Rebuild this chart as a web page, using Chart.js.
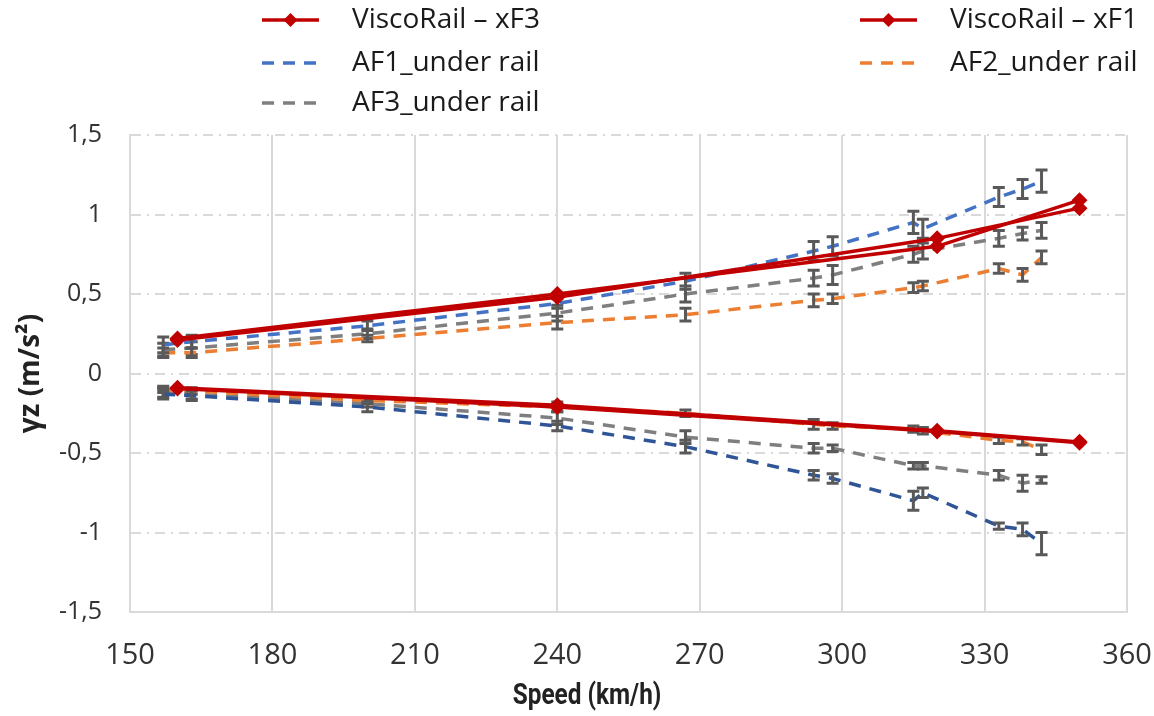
<!DOCTYPE html>
<html>
<head>
<meta charset="utf-8">
<script src="https://cdn.jsdelivr.net/npm/chart.js@4.4.0/dist/chart.umd.min.js"></script>
<style>
  html, body { margin: 0; padding: 0; background: #fff; }
</style>
</head>
<body>
<canvas id="chart" width="1154" height="716"></canvas>
<script>
// speeds (km/h)
const railSpeeds = [160, 240, 320, 350];
const afSpeeds = [157, 163, 200, 240, 267, 294, 298, 315, 317, 333, 338, 342];

// ViscoRail peaks (positive / negative)
const xF3Pos = [0.22, 0.50, 0.80, 1.09];
const xF3Neg = [-0.09, -0.20, -0.36, -0.43];
const xF1Pos = [0.21, 0.48, 0.85, 1.04];
const xF1Neg = [-0.095, -0.21, -0.365, -0.435];

// accelerometers under rail
const af1Pos = [0.18, 0.20, 0.30, 0.44, 0.58, 0.77, 0.80, 0.95, 0.91, 1.11, 1.16, 1.21];
const af1Neg = [-0.13, -0.14, -0.21, -0.33, -0.46, -0.64, -0.66, -0.80, -0.75, -0.96, -0.98, -1.07];
const af2Pos = [0.13, 0.13, 0.22, 0.32, 0.37, 0.46, 0.47, 0.54, 0.55, 0.66, 0.62, 0.73];
const af2Neg = [-0.10, -0.11, -0.17, -0.21, -0.25, -0.32, -0.33, -0.35, -0.36, -0.42, -0.43, -0.48];
const af3Pos = [0.15, 0.16, 0.25, 0.38, 0.50, 0.60, 0.62, 0.75, 0.77, 0.85, 0.88, 0.90];
const af3Neg = [-0.12, -0.13, -0.19, -0.28, -0.40, -0.47, -0.47, -0.58, -0.58, -0.64, -0.69, -0.67];

// half spread of the measurements
const af1PosErr = [0.05, 0.04, 0.03, 0.03, 0.05, 0.06, 0.06, 0.07, 0.06, 0.06, 0.06, 0.07];
const af1NegErr = [0.03, 0.03, 0.03, 0.03, 0.04, 0.03, 0.03, 0.06, 0.03, 0.02, 0.04, 0.07];
const af2PosErr = [0.03, 0.03, 0.02, 0.04, 0.04, 0.04, 0.03, 0.03, 0.03, 0.03, 0.04, 0.04];
const af2NegErr = [0.02, 0.02, 0.02, 0.03, 0.02, 0.03, 0.02, 0.02, 0.02, 0.02, 0.02, 0.03];
const af3PosErr = [0.04, 0.04, 0.03, 0.05, 0.05, 0.05, 0.06, 0.05, 0.05, 0.05, 0.04, 0.05];
const af3NegErr = [0.03, 0.03, 0.02, 0.04, 0.04, 0.03, 0.02, 0.02, 0.02, 0.03, 0.05, 0.02];

const xTicks = [150, 180, 210, 240, 270, 300, 330, 360];
const yTickLabels = ['-1,5', '-1', '-0,5', '0', '0,5', '1', '1,5'];
const xTitle = 'Speed (km/h)';

function pts(xs, ys) {
  return xs.map((x, i) => ({ x: x, y: ys[i] }));
}

const RED = '#C00000';
const BLUE = '#4472C4';
const NAVY = '#2F5597';
const ORANGE = '#ED7D31';
const GREY = '#7F7F7F';
const TEXT = '#333333';

function railSet(label, data, legend) {
  return {
    label: label,
    data: data,
    borderColor: RED,
    backgroundColor: RED,
    borderWidth: 3.5,
    pointStyle: 'rectRot',
    pointRadius: 8,
    pointBorderWidth: 0,
    showLine: true,
    legend: legend
  };
}

function afSet(label, data, color, err, legend) {
  return {
    label: label,
    data: data,
    borderColor: color,
    backgroundColor: color,
    borderWidth: 3.5,
    borderDash: [12, 9],
    pointRadius: 0,
    showLine: true,
    err: err,
    legend: legend
  };
}

const datasets = [
  railSet('ViscoRail – xF3', pts(railSpeeds, xF3Pos), true),
  railSet('ViscoRail – xF3', pts(railSpeeds, xF3Neg), false),
  railSet('ViscoRail – xF1', pts(railSpeeds, xF1Pos), true),
  railSet('ViscoRail – xF1', pts(railSpeeds, xF1Neg), false),
  afSet('AF1_under rail', pts(afSpeeds, af1Pos), BLUE, af1PosErr, true),
  afSet('AF1_under rail', pts(afSpeeds, af1Neg), NAVY, af1NegErr, false),
  afSet('AF2_under rail', pts(afSpeeds, af2Pos), ORANGE, af2PosErr, true),
  afSet('AF2_under rail', pts(afSpeeds, af2Neg), ORANGE, af2NegErr, false),
  afSet('AF3_under rail', pts(afSpeeds, af3Pos), GREY, af3PosErr, true),
  afSet('AF3_under rail', pts(afSpeeds, af3Neg), GREY, af3NegErr, false)
];

// gray I-bars drawn right after each AF line
const errorBars = {
  id: 'errorBars',
  afterDatasetDraw(chart, args) {
    const ds = chart.data.datasets[args.index];
    if (!ds.err) return;
    const { ctx, scales: { x, y } } = chart;
    ctx.save();
    ctx.strokeStyle = '#595959';
    ctx.lineWidth = 3;
    ds.data.forEach((p, i) => {
      const px = x.getPixelForValue(p.x);
      const top = y.getPixelForValue(p.y + ds.err[i]);
      const bot = y.getPixelForValue(p.y - ds.err[i]);
      ctx.beginPath();
      ctx.moveTo(px, top); ctx.lineTo(px, bot);
      ctx.moveTo(px - 6, top); ctx.lineTo(px + 6, top);
      ctx.moveTo(px - 6, bot); ctx.lineTo(px + 6, bot);
      ctx.stroke();
    });
    ctx.restore();
  }
};

// two column legend above the plot
const gridLegend = {
  id: 'gridLegend',
  afterDraw(chart) {
    const ctx = chart.ctx;
    const items = chart.data.datasets.filter(d => d.legend);
    const cols = [262, 860];
    const rows = [20, 63, 103];
    ctx.save();
    ctx.font = '28px "Open Sans", sans-serif';
    ctx.textBaseline = 'middle';
    items.forEach((d, i) => {
      const lx = cols[i % 2];
      const ly = rows[Math.floor(i / 2)];
      ctx.strokeStyle = d.borderColor;
      ctx.lineWidth = 3.5;
      ctx.setLineDash(d.borderDash || []);
      ctx.beginPath();
      ctx.moveTo(lx, ly);
      ctx.lineTo(lx + 57, ly);
      ctx.stroke();
      ctx.setLineDash([]);
      if (d.pointStyle === 'rectRot') {
        ctx.fillStyle = d.borderColor;
        ctx.beginPath();
        ctx.moveTo(lx + 28.5, ly - 7);
        ctx.lineTo(lx + 35.5, ly);
        ctx.lineTo(lx + 28.5, ly + 7);
        ctx.lineTo(lx + 21.5, ly);
        ctx.closePath();
        ctx.fill();
      }
      ctx.fillStyle = '#1a1a1a';
      ctx.fillText(d.label, lx + 90, ly);
    });
    ctx.restore();
  }
};

// narrow bold axis title under the speed axis
const speedTitle = {
  id: 'speedTitle',
  afterDraw(chart) {
    const ctx = chart.ctx;
    ctx.save();
    ctx.translate(587, 697);
    ctx.scale(0.84, 1);
    ctx.font = 'bold 29px Roboto, sans-serif';
    ctx.fillStyle = '#222222';
    ctx.textAlign = 'center';
    ctx.textBaseline = 'middle';
    ctx.fillText(xTitle, 0, 0);
    ctx.restore();
  }
};

new Chart(document.getElementById('chart'), {
  type: 'scatter',
  data: { datasets: datasets },
  plugins: [errorBars, gridLegend, speedTitle],
  options: {
    responsive: false,
    devicePixelRatio: 1,
    animation: false,
    layout: { padding: { top: 135, right: 27, bottom: 0, left: 0 } },
    plugins: {
      legend: { display: false },
      tooltip: { enabled: false }
    },
    scales: {
      x: {
        type: 'linear',
        min: 150,
        max: 360,
        afterBuildTicks(scale) { scale.ticks = xTicks.map(v => ({ value: v })); },
        afterFit(scale) {
          scale.height = 104;
          scale.paddingLeft = 0;
          scale.paddingRight = 0;
        },
        ticks: {
          color: TEXT,
          padding: 26,
          font: { family: '"Open Sans", sans-serif', size: 29 }
        },
        grid: { color: '#d9d9d9', lineWidth: 2, drawTicks: false },
        border: { color: '#d9d9d9', width: 2 }
      },
      y: {
        min: -1.5,
        max: 1.5,
        afterFit(scale) { scale.width = 130; },
        ticks: {
          stepSize: 0.5,
          color: TEXT,
          padding: 28,
          font: { family: '"Open Sans", sans-serif', size: 25 },
          callback: (v, i) => yTickLabels[i]
        },
        grid: { color: '#d9d9d9', lineWidth: 2, drawTicks: false },
        border: { color: '#d9d9d9', width: 2, dash: [10, 6, 2, 6] },
        title: {
          display: true,
          text: 'γz (m/s²)',
          color: '#222222',
          padding: { top: 14, bottom: 0 },
          font: { family: '"Open Sans", sans-serif', size: 28, weight: 'bold' }
        }
      }
    }
  }
});
</script>
</body>
</html>
